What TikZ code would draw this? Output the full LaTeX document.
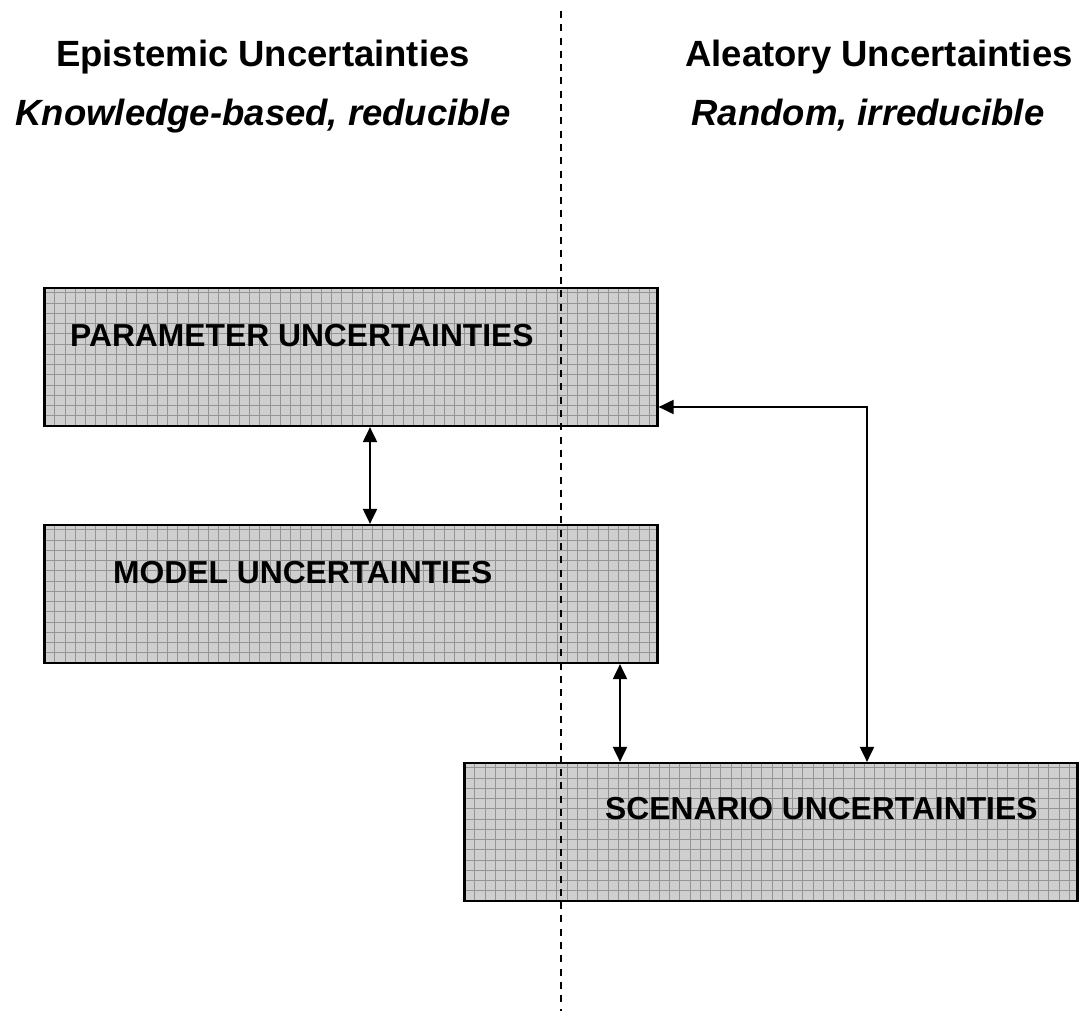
\documentclass[tikz,border=0pt]{standalone}
\usepackage{fontspec}
\setmainfont{Liberation Sans}
\usetikzlibrary{arrows.meta}

\begin{document}
\begin{tikzpicture}[line cap=butt,line join=miter,>={Triangle[length=15pt,width=14pt]},x=1pt,y=-1pt,
	gridline/.style={line width=0.8pt,color=black!42},
	ubox/.style={draw=black,line width=2.2pt,fill=black!19,minimum width=613pt,minimum height=138pt,inner sep=0pt,
		path picture={
			\foreach \k in {1,...,60}
				\draw[gridline] ([xshift={\k*10.25pt}]path picture bounding box.south west) -- ([xshift={\k*10.25pt}]path picture bounding box.north west);
			\foreach \k in {1,...,14}
				\draw[gridline] ([yshift={\k*10.25pt}]path picture bounding box.south west) -- ([yshift={\k*10.25pt}]path picture bounding box.south east);
		}},
	headtext/.style={font=\fontsize{36.5}{40}\selectfont\bfseries,anchor=base},
	subtext/.style={font=\fontsize{36.5}{40}\selectfont\bfseries\itshape,anchor=base},
	boxtext/.style={font=\fontsize{31.8}{36}\selectfont\bfseries,anchor=base west,inner sep=0pt},
	link/.style={line width=2pt}]
	\useasboundingbox (0,0) rectangle (1085,1011);
	% column headings
	\node[headtext] (epist) at (263,67) {Epistemic Uncertainties};
	\node[subtext] (epistsub) at (263,126) {Knowledge-based, reducible};
	\node[headtext] (aleat) at (879,67) {Aleatory Uncertainties};
	\node[subtext] (aleatsub) at (868,126) {Random, irreducible};
	% boxes
	\node[ubox] (param) at (351,357) {};
	\node[ubox] (model) at (351,594) {};
	\node[ubox] (scen) at (771,832) {};
	\node[boxtext] (paramtext) at (70,346) {PARAMETER UNCERTAINTIES};
	\node[boxtext] (modeltext) at (113,583) {MODEL UNCERTAINTIES};
	\node[boxtext] (scentext) at (605,819) {SCENARIO UNCERTAINTIES};
	% links
	\draw[link,<->] ([xshift=19pt]param.south) -- ([xshift=19pt]model.north);
	\draw[link,<->] ([xshift=269pt]model.south) -- ([xshift=-151pt]scen.north);
	\draw[link,<->] ([yshift=-50pt]param.east) -| ([xshift=96pt]scen.north);
	% divider
	\coordinate (divtop) at (561,11);
	\coordinate (divbot) at (561,1011);
	\draw[line width=2pt,dash pattern=on 7pt off 6.3pt] (divtop) -- (divbot);
\end{tikzpicture}
\end{document}
